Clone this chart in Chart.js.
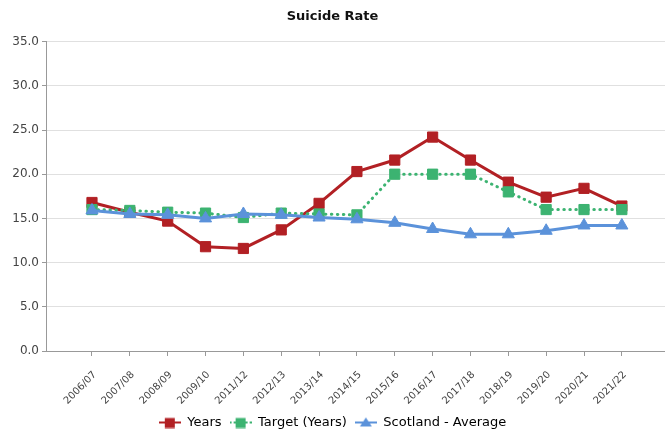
<!DOCTYPE html>
<html>
<head>
<meta charset="utf-8">
<script src="https://cdn.jsdelivr.net/npm/chart.js@4"></script>
<style>
  html, body { margin: 0; padding: 0; background: #fff; }
  #wrap { width: 665px; height: 432px; }
</style>
</head>
<body>
<div id="wrap"><canvas id="rateChart"></canvas></div>
<script>
// ==================== DATA ====================
const periods = ['2006/07', '2007/08', '2008/09', '2009/10', '2011/12', '2012/13', '2013/14', '2014/15',
    '2015/16', '2016/17', '2017/18', '2018/19', '2019/20', '2020/21', '2021/22'];
const yearsRate = [16.8, 15.7, 14.7, 11.8, 11.6, 13.7, 16.7, 20.3, 21.6, 24.2, 21.6, 19.1, 17.4, 18.4, 16.4];
const targetRate = [16.0, 15.9, 15.7, 15.6, 15.1, 15.6, 15.5, 15.4, 20.0, 20.0, 20.0, 18.0, 16.0, 16.0, 16.0];
const scotlandRate = [15.9, 15.5, 15.4, 15.0, 15.5, 15.4, 15.1, 14.9, 14.5, 13.8, 13.2, 13.2, 13.6, 14.2, 14.2];
const yTicks = [0, 5, 10, 15, 20, 25, 30, 35];

const RED = '#b22024', GREEN = '#3cb371', BLUE = '#5b92da';
const FONT = 'Tahoma, "DejaVu Sans", sans-serif';

// legend icon: short line with the marker in the middle
function legendIcon(color, marker, dotted) {
    const c = document.createElement('canvas');
    c.width = 22; c.height = 12;
    const g = c.getContext('2d');
    g.strokeStyle = color; g.fillStyle = color; g.lineWidth = 2;
    if (dotted) g.setLineDash([2, 2]);
    g.beginPath(); g.moveTo(0, 6); g.lineTo(22, 6); g.stroke();
    g.beginPath();
    if (marker === 'rect') g.rect(6, 1.5, 10, 10);
    else { g.moveTo(11, 1); g.lineTo(17, 10); g.lineTo(5, 10); g.closePath(); }
    g.fill();
    return c;
}

const toPoints = arr => arr.map((v, i) => ({ x: i, y: v }));

const datasets = [
    { label: 'Years', data: toPoints(yearsRate), borderColor: RED, backgroundColor: RED,
      borderWidth: 3, pointStyle: 'rect', pointRadius: 7.2, pointBorderWidth: 1, order: 3,
      icon: legendIcon(RED, 'rect') },
    { label: 'Target (Years)', data: toPoints(targetRate), borderColor: GREEN, backgroundColor: GREEN,
      borderWidth: 3, borderDash: [0.5, 5.5], borderCapStyle: 'round', pointStyle: 'rect', pointRadius: 7.2,
      pointBorderWidth: 1, order: 2, icon: legendIcon(GREEN, 'rect', true) },
    { label: 'Scotland - Average', data: toPoints(scotlandRate), borderColor: BLUE, backgroundColor: BLUE,
      borderWidth: 3, pointStyle: 'triangle', pointRadius: 7, pointBorderWidth: 1, order: 1,
      icon: legendIcon(BLUE, 'triangle') }
];

new Chart(document.getElementById('rateChart'), {
    type: 'line',
    data: { datasets },
    options: {
        responsive: true,
        maintainAspectRatio: false,
        animation: false,
        layout: { autoPadding: false, padding: { left: 0, right: 0, top: 0, bottom: -7 } },
        plugins: {
            tooltip: { enabled: false },
            title: {
                display: true, text: 'Suicide Rate', color: '#111',
                font: { family: FONT, size: 13, weight: 'bold' },
                padding: { top: 9, bottom: 17 }
            },
            legend: {
                position: 'bottom',
                labels: {
                    usePointStyle: true, pointStyleWidth: 22, boxHeight: 12, padding: 8,
                    color: '#333', font: { family: FONT, size: 13 },
                    generateLabels: chart => chart.data.datasets.map((ds, i) => ({
                        text: ds.label, pointStyle: ds.icon, fillStyle: ds.borderColor,
                        strokeStyle: ds.borderColor, lineWidth: 0, datasetIndex: i, hidden: false
                    }))
                }
            }
        },
        scales: {
            x: {
                type: 'linear', min: -1.215, max: 15.14,
                afterBuildTicks: s => { s.ticks = s.ticks.filter(t => t.value >= 0 && t.value < periods.length); },
                afterFit: s => { s.height = 57; s.paddingLeft = 0; s.paddingRight = 0; },
                ticks: {
                    stepSize: 1, includeBounds: false, autoSkip: false, maxRotation: 45, minRotation: 45,
                    color: '#444', font: { family: FONT, size: 10 }, padding: 13, labelOffset: 3,
                    callback: v => periods[v] !== undefined ? periods[v] : ''
                },
                grid: { drawOnChartArea: false, drawTicks: true, tickLength: 5, tickColor: '#999' },
                border: { color: '#999' }
            },
            y: {
                min: 0, max: 35,
                afterFit: s => { s.width = 46; },
                afterBuildTicks: s => { s.ticks = yTicks.map(v => ({ value: v })); },
                ticks: {
                    stepSize: 5, color: '#444', font: { family: FONT, size: 12 }, padding: 3,
                    callback: v => v.toFixed(1)
                },
                grid: { color: '#e0e0e0', lineWidth: 1, tickLength: 4, tickColor: '#999' },
                border: { color: '#999' }
            }
        }
    }
});
</script>
</body>
</html>
